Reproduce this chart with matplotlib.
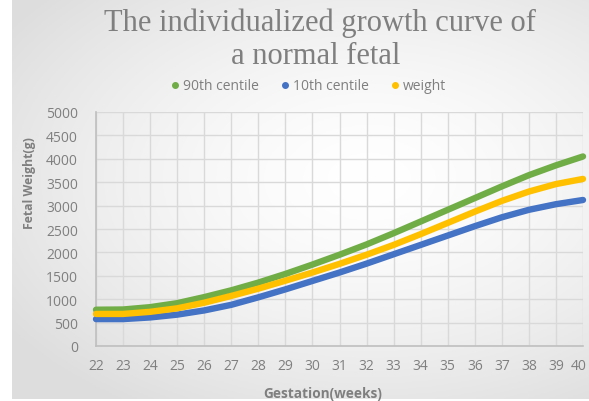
import numpy as np
import matplotlib
matplotlib.use('Agg')
import matplotlib.pyplot as plt
import matplotlib.transforms as mtransforms
from matplotlib.lines import Line2D

# %% data (grams, one value per week)
weeks = [22, 23, 24, 25, 26, 27, 28, 29, 30, 31, 32, 33, 34, 35, 36, 37, 38,
         39, 40]
centile_90 = [775, 780, 830, 915, 1045, 1190, 1355, 1540, 1740, 1950, 2170,
              2410, 2660, 2910, 3160, 3410, 3650, 3860, 4050]
centile_10 = [575, 575, 610, 670, 760, 880, 1040, 1210, 1390, 1570, 1760,
              1960, 2160, 2360, 2560, 2750, 2910, 3030, 3120]
weight = [685, 685, 730, 805, 925, 1070, 1225, 1395, 1570, 1755, 1950, 2160,
          2390, 2630, 2870, 3100, 3300, 3460, 3570]
series_names = ['90th centile', '10th centile', 'weight']

# %% settings
green = '#70ad47'
blue = '#4472c4'
yellow = '#ffc000'
txt_grey = '#7f7f7f'
grid_grey = '#d9d9d9'
W, H = 589, 402

fig = plt.figure(figsize=(W / 100, H / 100), dpi=100)
fig.patch.set_facecolor('white')

# background gradient (excel style)
bg = fig.add_axes([12 / W, 2 / H, 1 - 12 / W, 1 - 2 / H], zorder=-10)
yy, xx = np.mgrid[0:1:200j, 0:1:300j]
r = np.sqrt(((xx - 0.62) / 1.0) ** 2 + ((yy - 0.55) / 0.9) ** 2)
shade = 1 - 0.13 * np.clip(r / 0.75, 0, 1) ** 1.5
bg.imshow(np.dstack([shade] * 3), aspect='auto', extent=[0, 1, 0, 1],
          origin='lower')
bg.axis('off')

ax = fig.add_axes([96 / W, 1 - 347 / H, (583 - 96) / W, (347 - 113) / H])
ax.patch.set_alpha(0)

for vals, c in zip([centile_90, centile_10, weight], [green, blue, yellow]):
    ax.plot(weeks, vals, color=c, lw=4.6, solid_capstyle='round',
            solid_joinstyle='round', zorder=3, clip_on=False)

ax.set_xlim(22, 40)
ax.set_ylim(0, 5000)
ax.set_xticks(range(22, 41))
ax.set_yticks(range(0, 5001, 500))
ax.grid(True, color=grid_grey, lw=1)
ax.set_axisbelow(True)
ax.tick_params(length=0, labelcolor=txt_grey, labelsize=10)
ax.tick_params(axis='y', pad=13)
ax.tick_params(axis='x', pad=9)
for lab in ax.get_xticklabels() + ax.get_yticklabels():
    lab.set_family('Open Sans')
# last x label sits against the right edge, nudge it in a little
last = ax.get_xticklabels()[-1]
last.set_transform(last.get_transform() +
                   mtransforms.ScaledTranslation(-4 / 100, 0,
                                                 fig.dpi_scale_trans))
for s in ['top', 'right']:
    ax.spines[s].set_visible(False)
for s in ['left', 'bottom']:
    ax.spines[s].set_color('#bfbfbf')
    ax.spines[s].set_linewidth(1.2)

fig.text(320 / W, 1 - 23 / H, 'The individualized growth curve of',
         ha='center', va='center', family='Liberation Serif', fontsize=22,
         color=txt_grey)
fig.text(316 / W, 1 - 57 / H, 'a normal fetal', ha='center', va='center',
         family='Liberation Serif', fontsize=22, color=txt_grey)

fig.text(323 / W, 1 - 394 / H, 'Gestation(weeks)', ha='center', va='center',
         family='Open Sans', fontweight='bold', fontsize=9.8, color=txt_grey)
fig.text(29 / W, 1 - 183 / H, 'Fetal Weight(g)', ha='center', va='center',
         rotation=90, family='Open Sans', fontweight='bold', fontsize=8.8,
         color=txt_grey)

handles = [Line2D([], [], ls='', marker='o', ms=4, color=c)
           for c in [green, blue, yellow]]
fig.legend(handles, series_names, loc='center', bbox_to_anchor=(307 / W, 1 - 87 / H),
           ncol=3, frameon=False, prop={'family': 'Open Sans', 'size': 10},
           labelcolor=txt_grey, handletextpad=0.05, columnspacing=1.4,
           handlelength=1.0)

fig.savefig('out.png', dpi=100)
